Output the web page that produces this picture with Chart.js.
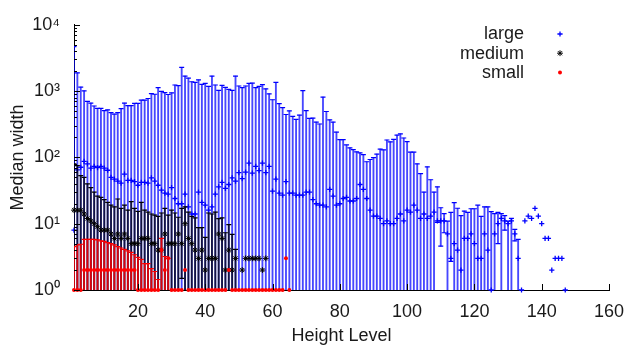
<!DOCTYPE html>
<html>
<head>
<meta charset="utf-8">
<title>Median width by height level</title>
<script src="https://cdn.jsdelivr.net/npm/chart.js@4.4.1/dist/chart.umd.min.js"></script>
<style>
  html, body { margin: 0; padding: 0; background: #fff; }
  #wrap { width: 625px; height: 347px; }
</style>
</head>
<body>
<div id="wrap"><canvas id="chart" width="625" height="347"></canvas></div>
<script>
// --- data ---
const xTicks = [20, 40, 60, 80, 100, 120, 140, 160];
const yTicks = [1, 10, 100, 1000, 10000];
const yTickLabels = ['10⁰', '10¹', '10²', '10³', '10⁴'];
const keyLabels = ['large', 'medium', 'small'];

// large: median for height 1..147, upper error for 1..133
const largeMed = [
  8, 65, 71, 87, 80, 69, 73, 70, 73, 69,
  64, 50, 47, 44, 41, 56, 45, 45, 43, 38,
  42, 42, 41, 49, 44, 38, 32, 29, 28, 35,
  24, 20, 20, 28, 18, 14, 14, 30, 21, 19,
  16, 18, 28, 36, 42, 34, 39, 49, 44, 59,
  48, 60, 82, 58, 73, 63, 82, 59, 73, 31,
  47, 29, 27, 43, 29, 29, 27, 27, 27, 30,
  30, 23, 20, 19, 19, 18, 33, 26, 19, 20,
  24, 25, 22, 22, 24, 39, 33, 24, 16, 13,
  13, 12, 10, 11, 10, 10, 12, 14, 11, 16,
  15, 19, 16, 12, 14, 12, 13, 15, 11, 11,
  11, 7, 3, 5, 4, 2, 6, 6, 7, 5,
  3, 3, 7, 4, 1, 7, 10, 12, 11, 10,
  11, 7, 3, 1, 11, 13, 12, 17, 13, 10,
  6, 6, 2, 3, 3, 3, 1
];
const largeHi = [
  4700, 1880, 1150, 1010, 700, 660, 596, 550, 550, 509,
  520, 475, 449, 475, 545, 660, 604, 604, 653, 653,
  731, 731, 774, 918, 897, 1127, 993, 950, 888, 940,
  1236, 1206, 2283, 1680, 1570, 1383, 1350, 1480, 1262, 1306,
  1178, 1680, 1236, 1028, 1218, 1138, 1064, 1028, 1680, 1193,
  1127, 1193, 1306, 1322, 1127, 1178, 1248, 1078, 909, 741,
  1350, 646, 564, 444, 502, 415, 374, 433, 1017, 509,
  387, 391, 341, 319, 809, 492, 369, 341, 240, 185,
  185, 154, 139, 131, 121, 117, 110, 86, 93, 99,
  112, 133, 130, 183, 171, 187, 217, 227, 196, 173,
  120, 120, 80, 57, 30, 72, 46, 30, 36, 17.4,
  14.2, 10.9, 14.8, 20.8, 17.1, 13.2, 15.5, 14.8, 16.8, 16.8,
  19, 12.9, 18, 18, 15.2, 14.2, 14.8, 14.2, 13.2, 10.9,
  12, 8.2, 5.8
];
// bars whose lower end sits above 1
const largeLoX = [109, 110, 111, 113, 127, 129, 132];
const largeLoVal = [10.5, 4.6, 7.3, 2.7, 5, 8, 5.5];

// medium: height 1..58
const mediumMed = [
  16, 16, 16, 14, 12, 11, 10, 9, 8, 8,
  8, 7, 6, 7, 6, 7, 6, 5, 5, 5,
  6, 6, 6, 5, 5, 4, 4, 7, 5, 5,
  5, 7, 5, 10, 6, 5, 4, 3, 4, 2,
  3, 3, 3, 7, 6, 2, 4, 2, 3, null,
  2, 3, 3, 3, 3, 3, 2, 3
];
const mediumHi = [
  80, 75, 53, 50, 40, 35, 30, 26, 25, 23,
  21, 19, 18, 23.6, 17, 19, 16, 21.5, 17, 15.3,
  21, 16, 15, 14, 13.5, 12.9, 14.5, 17, 13.5, 16,
  14.5, 12.5, 17, 18, 15, 12.9, 12.2, 8.7, 8.7, 6.2,
  14.5, 14, 15, 11.9, 12.2, 7.3, 9.7, 6.9, 4.1
];
const mediumLoX = [33];
const mediumLoVal = [1.5];

// small: height 1..65
const smallMed = [
  1, 1, 1, 2, 2, 2, 2, 2, 2, 2,
  2, 2, 2, 2, 2, 2, 2, 2, 2, 1,
  1, 1, 1, 1, 1, 1, 4, 2, 3, 1,
  1, 1, 1, 2, 1, 1, 1, 1, 1, 1,
  1, 1, 1, 1, 1, 1, 2, 1, 1, 1,
  1, 1, 1, 1, 1, 1, 1, 1, 1, 1,
  1, 1, 1, 3, 1
];
const smallHi = [
  4.5, 4.8, 4.9, 5.8, 5.8, 5.8, 5.8, 5.7, 5.5, 5.4,
  5.2, 5.0, 4.8, 4.5, 4.3, 4.1, 3.9, 3.7, 3.4, 3.1,
  2.9, 2.5, 2.5, 2.1, 1.9, 1.44, 6.0, 3.2, 3.0
];

// --- build chart datasets from the arrays ---
function medPoints(med) {
  return med.map((v, i) => v == null ? null : { x: i + 1, y: v }).filter(Boolean);
}
function lowEnd(i, loX, loVal) {
  const k = loX.indexOf(i + 1);
  return k < 0 ? 1 : loVal[k];
}
function barPoints(hi, loX, loVal) {
  return hi.map((h, i) => ({ x: i + 1, y: [lowEnd(i, loX, loVal), h] }));
}
function capPoints(hi, loX, loVal) {
  const caps = hi.map((h, i) => ({ x: i + 1, y: h }));
  loX.forEach((x, k) => caps.push({ x: x, y: loVal[k] }));
  return caps;
}

const FONT = '"Liberation Sans", Arial, sans-serif';
const BLUE = '#0000ff';
const BLUE_BAR = 'rgba(0, 0, 255, 0.72)';
const BLACK = '#000000';
const BLACK_BAR = 'rgba(0, 0, 0, 0.75)';
const RED = '#ff0000';

function barSet(label, data, color, order) {
  return { type: 'bar', label: label, data: data, backgroundColor: color,
           barThickness: 1.2, grouped: false, borderWidth: 0, order: order };
}
function capSet(label, data, color, order) {
  return { type: 'scatter', label: label, data: data, pointStyle: 'line',
           pointRadius: 2.5, borderColor: color, borderWidth: 1.2, order: order };
}

const datasets = [
  barSet('large bars', barPoints(largeHi, largeLoX, largeLoVal), BLUE_BAR, 9),
  capSet('large caps', capPoints(largeHi, largeLoX, largeLoVal), BLUE, 8),
  { type: 'scatter', label: 'large', data: medPoints(largeMed), pointStyle: 'cross',
    pointRadius: 2.6, borderColor: BLUE, backgroundColor: BLUE, borderWidth: 1.3, order: 7, clip: false },
  barSet('medium bars', barPoints(mediumHi, mediumLoX, mediumLoVal), BLACK_BAR, 6),
  capSet('medium caps', capPoints(mediumHi, mediumLoX, mediumLoVal), BLACK, 5),
  { type: 'scatter', label: 'medium', data: medPoints(mediumMed), pointStyle: 'star',
    pointRadius: 2.9, borderColor: BLACK, backgroundColor: BLACK, borderWidth: 1, order: 4, clip: false },
  barSet('small bars', barPoints(smallHi, [], []), 'rgba(255, 0, 0, 0.85)', 3),
  capSet('small caps', capPoints(smallHi, [], []), RED, 2),
  { type: 'scatter', label: 'small', data: medPoints(smallMed), pointStyle: 'circle',
    pointRadius: 2, borderColor: RED, backgroundColor: RED, borderWidth: 0, order: 1, clip: false }
];

// gnuplot style ticks pointing into the plot
const inwardTicks = {
  id: 'inwardTicks',
  afterDraw(chart) {
    const { ctx, chartArea: a, scales: { x, y } } = chart;
    ctx.save();
    ctx.strokeStyle = '#000';
    ctx.lineWidth = 1;
    ctx.beginPath();
    xTicks.forEach(v => {
      const px = Math.round(x.getPixelForValue(v)) + 0.5;
      ctx.moveTo(px, a.bottom);
      ctx.lineTo(px, a.bottom - 6);
    });
    yTicks.forEach((v, i) => {
      const py = Math.round(y.getPixelForValue(v)) + 0.5;
      ctx.moveTo(a.left, py);
      ctx.lineTo(a.left + 6, py);
      if (i < yTicks.length - 1) {
        for (let m = 2; m < 10; m++) {
          const pm = Math.round(y.getPixelForValue(v * m)) + 0.5;
          ctx.moveTo(a.left, pm);
          ctx.lineTo(a.left + 3, pm);
        }
      }
    });
    ctx.stroke();
    ctx.restore();
  }
};

// key in the top right: text first, symbol after it
const keyBox = {
  id: 'keyBox',
  afterDraw(chart) {
    const ctx = chart.ctx;
    ctx.save();
    ctx.font = '18px ' + FONT;
    ctx.textAlign = 'right';
    ctx.textBaseline = 'middle';
    keyLabels.forEach((label, i) => {
      const ds = chart.data.datasets.find(d => d.label === label);
      const yy = 34.5 + i * 19.2;
      ctx.fillStyle = '#1a1a1a';
      ctx.fillText(label, 524, yy);
      ctx.fillStyle = ds.backgroundColor;
      ctx.strokeStyle = ds.borderColor;
      ctx.lineWidth = ds.borderWidth;
      Chart.helpers.drawPoint(ctx, {
        pointStyle: ds.pointStyle, rotation: 0,
        radius: ds.pointRadius, borderWidth: ds.borderWidth
      }, 560, yy - 0.5);
    });
    ctx.restore();
  }
};

Chart.defaults.font.family = FONT;
Chart.defaults.font.size = 18;
Chart.defaults.color = '#1a1a1a';

new Chart(document.getElementById('chart'), {
  type: 'scatter',
  data: { datasets: datasets },
  options: {
    responsive: false,
    animation: false,
    events: [],
    layout: { padding: { top: 20, right: 16, bottom: 0, left: 0 } },
    plugins: { legend: { display: false }, tooltip: { enabled: false } },
    scales: {
      x: {
        type: 'linear', min: 1, max: 160, offset: false,
        afterBuildTicks: s => { s.ticks = xTicks.map(v => ({ value: v })); },
        afterFit: s => {
          s.height = 57;
          // the "160" label may hang past the plot edge, as in gnuplot
          s.paddingRight = 0;
          s.paddingLeft = 0;
        },
        ticks: { padding: 11, autoSkip: false, maxRotation: 0 },
        grid: { display: true, drawOnChartArea: false, drawTicks: false },
        border: { display: true, color: '#000', width: 1 },
        title: { display: true, text: 'Height Level', padding: { top: 0, bottom: 0 } }
      },
      y: {
        type: 'logarithmic', min: 1, max: 10000,
        afterBuildTicks: s => { s.ticks = yTicks.map(v => ({ value: v })); },
        afterFit: s => { s.width = 74; },
        ticks: { padding: 14, callback: v => yTickLabels[yTicks.indexOf(v)] },
        grid: { display: true, drawOnChartArea: false, drawTicks: false },
        border: { display: true, color: '#000', width: 1 },
        title: { display: true, text: 'Median width', padding: { top: 7, bottom: 0 } }
      }
    }
  },
  plugins: [inwardTicks, keyBox]
});
</script>
</body>
</html>
